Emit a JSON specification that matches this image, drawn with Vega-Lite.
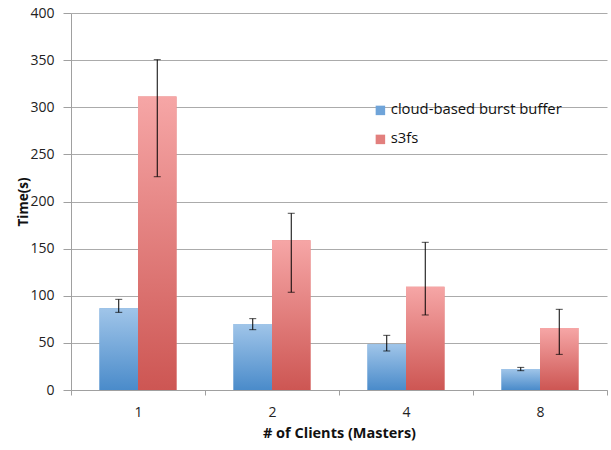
{
  "$schema": "https://vega.github.io/schema/vega-lite/v6.json",
  "width": 536,
  "height": 377,
  "autosize": "none",
  "padding": {"left": 71, "top": 13, "right": 4, "bottom": 60},
  "config": {"view": {"stroke": null}, "font": "Open Sans"},
  "data": {
    "values": [
      {"clients": "1", "series": "cloud-based burst buffer", "time": 86.7, "lo": 82.4, "hi": 96.2},
      {"clients": "1", "series": "s3fs", "time": 311.5, "lo": 226.3, "hi": 350.5},
      {"clients": "2", "series": "cloud-based burst buffer", "time": 70, "lo": 64, "hi": 75.7},
      {"clients": "2", "series": "s3fs", "time": 159, "lo": 103.7, "hi": 187.5},
      {"clients": "4", "series": "cloud-based burst buffer", "time": 48.5, "lo": 41.4, "hi": 58},
      {"clients": "4", "series": "s3fs", "time": 109.6, "lo": 79.6, "hi": 156.7},
      {"clients": "8", "series": "cloud-based burst buffer", "time": 22.3, "lo": 20.5, "hi": 24},
      {"clients": "8", "series": "s3fs", "time": 65.8, "lo": 37.8, "hi": 85.6}
    ]
  },
  "encoding": {
    "x": {
      "field": "clients",
      "type": "nominal",
      "sort": ["1", "2", "4", "8"],
      "scale": {"paddingInner": 0, "paddingOuter": 0},
      "axis": {
        "title": "# of Clients (Masters)",
        "tickBand": "extent",
        "labelAngle": 0,
        "tickSize": 5,
        "domainColor": "#a0a0a0",
        "tickColor": "#a0a0a0",
        "labelPadding": 10,
        "labelFontSize": 14,
        "labelColor": "#222222",
        "titleFontSize": 14.5,
        "titleFontWeight": "bold",
        "titleColor": "#111111",
        "titlePadding": 7
      }
    },
    "xOffset": {
      "field": "series",
      "type": "nominal",
      "scale": {"domain": ["cloud-based burst buffer", "s3fs"], "paddingInner": 0, "paddingOuter": 0.74}
    }
  },
  "layer": [
    {
      "mark": {"type": "bar"},
      "encoding": {
        "y": {
          "field": "time",
          "type": "quantitative",
          "title": "Time(s)",
          "scale": {"domain": [0, 400]},
          "axis": {
            "values": [0, 50, 100, 150, 200, 250, 300, 350, 400],
            "grid": true,
            "gridColor": "#ababab",
            "domainColor": "#a0a0a0",
            "tickColor": "#a0a0a0",
            "tickSize": 8,
            "labelFontSize": 14,
            "labelColor": "#222222",
            "labelPadding": 9,
            "titleFontSize": 13.5,
            "titleFontWeight": "bold",
            "titleColor": "#111111",
            "titleX": -48,
            "titleBaseline": "middle"
          }
        },
        "color": {
          "field": "series",
          "type": "nominal",
          "scale": {
            "domain": ["cloud-based burst buffer", "s3fs"],
            "range": ["#6fa4d9", "#e27f7d"]
          },
          "legend": {
            "title": null,
            "orient": "none",
            "legendX": 302,
            "legendY": 90,
            "symbolType": "square",
            "symbolSize": 90,
            "symbolStrokeWidth": 0,
            "symbolOpacity": 1,
            "labelFontSize": 14.8,
            "labelLimit": 0,
            "labelColor": "#111111",
            "rowPadding": 13,
            "padding": 0,
            "labelOffset": 3
          }
        }
      }
    },
    {
      "transform": [{"filter": "datum.series === 'cloud-based burst buffer'"}],
      "mark": {
        "type": "bar",
        "color": {"gradient": "linear", "x1": 0, "y1": 0, "x2": 0, "y2": 1, "stops": [{"offset": 0, "color": "#a0c5e9"}, {"offset": 1, "color": "#4a8bca"}]}
      },
      "encoding": {"y": {"field": "time", "type": "quantitative", "title": "Time(s)"}}
    },
    {
      "transform": [{"filter": "datum.series === 's3fs'"}],
      "mark": {
        "type": "bar",
        "color": {"gradient": "linear", "x1": 0, "y1": 0, "x2": 0, "y2": 1, "stops": [{"offset": 0, "color": "#f6a6a6"}, {"offset": 1, "color": "#cd5653"}]}
      },
      "encoding": {"y": {"field": "time", "type": "quantitative", "title": "Time(s)"}}
    },
    {
      "mark": {"type": "rule", "color": "#000000", "strokeWidth": 1},
      "encoding": {
        "y": {"field": "lo", "type": "quantitative", "title": "Time(s)"},
        "y2": {"field": "hi"}
      }
    },
    {
      "mark": {"type": "tick", "color": "#000000", "size": 7, "thickness": 1},
      "encoding": {"y": {"field": "lo", "type": "quantitative", "title": "Time(s)"}}
    },
    {
      "mark": {"type": "tick", "color": "#000000", "size": 7, "thickness": 1},
      "encoding": {"y": {"field": "hi", "type": "quantitative", "title": "Time(s)"}}
    }
  ]
}
